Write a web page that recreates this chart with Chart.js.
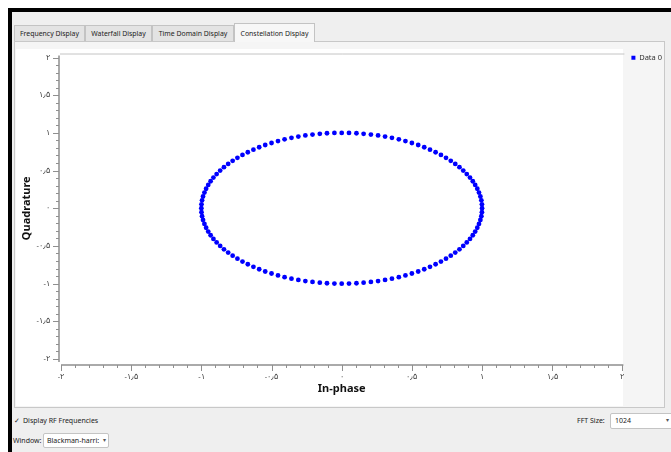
<!DOCTYPE html>
<html>
<head>
<meta charset="utf-8">
<script src="https://cdn.jsdelivr.net/npm/chart.js@4.4.1/dist/chart.umd.min.js"></script>
<style>
  body { margin: 0; width: 671px; height: 452px; overflow: hidden; background: #fff; font-family: "Noto Sans", sans-serif; position: relative; }
  .frame { position: absolute; left: 8px; top: 8px; right: 0; bottom: 0; background: #efefef; border-top: 4px solid #000; border-left: 4px solid #000; }
  .tab { position: absolute; top: 25px; height: 16px; line-height: 16px; font-size: 6.9px; color: #222; text-align: center; background: #e3e3e3; border: 1px solid #c3c3c3; border-bottom: none; box-sizing: border-box; }
  .tab.active { top: 23px; height: 19px; line-height: 19px; background: #f7f7f7; z-index: 2; }
  .pane { position: absolute; left: 14px; top: 41px; width: 651px; height: 367px; background: #f5f5f5; border: 1px solid #c8c8c8; box-sizing: border-box; }
  .plotbg { position: absolute; left: 16px; top: 49px; width: 607px; height: 357px; background: #fff; }
  #container { position: absolute; left: 14px; top: 42px; width: 655px; height: 364px; }
  .lbl { position: absolute; font-size: 7px; color: #222; white-space: nowrap; }
  .combo { position: absolute; background: #fff; border: 1px solid #c4c4c4; border-radius: 2px; box-sizing: border-box; font-size: 7px; color: #222; overflow: hidden; white-space: nowrap; }
</style>
</head>
<body>
<div class="frame"></div>
<div class="tab" style="left:14px;width:71px;">Frequency Display</div>
<div class="tab" style="left:85px;width:67px;">Waterfall Display</div>
<div class="tab" style="left:152px;width:82px;">Time Domain Display</div>
<div class="pane"></div>
<div class="tab active" style="left:234px;width:81px;">Constellation Display</div>
<div class="plotbg"></div>
<div id="container"><canvas id="myChart"></canvas></div>

<div class="lbl" style="left:14px;top:416px;">&#10003;</div>
<div class="lbl" style="left:23px;top:416px;">Display RF Frequencies</div>
<div class="lbl" style="left:13px;top:436px;">Window:</div>
<div class="combo" style="left:43px;top:433px;width:66px;height:15px;">
  <span style="position:absolute;left:3px;top:2px;">Blackman-harri:</span>
  <span style="position:absolute;left:57px;top:2px;font-size:6px;color:#555;background:#fff;padding-left:2px;">&#9662;</span>
</div>
<div class="lbl" style="left:577px;top:416px;">FFT Size:</div>
<div class="combo" style="left:610px;top:413px;width:66px;height:16px;">
  <span style="position:absolute;left:4px;top:2px;">1024</span>
  <span style="position:absolute;left:55px;top:2px;font-size:6px;color:#555;">&#9662;</span>
</div>

<script>
// samples (one ring of points, radius 1)
let inPhase = [
  1.000, 0.999, 0.995, 0.988, 0.978, 0.966, 0.951, 0.934, 0.914, 0.891,
  0.866, 0.839, 0.809, 0.777, 0.743, 0.707, 0.669, 0.629, 0.588, 0.545,
  0.500, 0.454, 0.407, 0.358, 0.309, 0.259, 0.208, 0.156, 0.105, 0.052,
  0.000, -0.052, -0.105, -0.156, -0.208, -0.259, -0.309, -0.358, -0.407, -0.454,
  -0.500, -0.545, -0.588, -0.629, -0.669, -0.707, -0.743, -0.777, -0.809, -0.839,
  -0.866, -0.891, -0.914, -0.934, -0.951, -0.966, -0.978, -0.988, -0.995, -0.999,
  -1.000, -0.999, -0.995, -0.988, -0.978, -0.966, -0.951, -0.934, -0.914, -0.891,
  -0.866, -0.839, -0.809, -0.777, -0.743, -0.707, -0.669, -0.629, -0.588, -0.545,
  -0.500, -0.454, -0.407, -0.358, -0.309, -0.259, -0.208, -0.156, -0.105, -0.052,
  0.000, 0.052, 0.105, 0.156, 0.208, 0.259, 0.309, 0.358, 0.407, 0.454,
  0.500, 0.545, 0.588, 0.629, 0.669, 0.707, 0.743, 0.777, 0.809, 0.839,
  0.866, 0.891, 0.914, 0.934, 0.951, 0.966, 0.978, 0.988, 0.995, 0.999
];
let quadrature = [
  0.000, 0.052, 0.105, 0.156, 0.208, 0.259, 0.309, 0.358, 0.407, 0.454,
  0.500, 0.545, 0.588, 0.629, 0.669, 0.707, 0.743, 0.777, 0.809, 0.839,
  0.866, 0.891, 0.914, 0.934, 0.951, 0.966, 0.978, 0.988, 0.995, 0.999,
  1.000, 0.999, 0.995, 0.988, 0.978, 0.966, 0.951, 0.934, 0.914, 0.891,
  0.866, 0.839, 0.809, 0.777, 0.743, 0.707, 0.669, 0.629, 0.588, 0.545,
  0.500, 0.454, 0.407, 0.358, 0.309, 0.259, 0.208, 0.156, 0.105, 0.052,
  0.000, -0.052, -0.105, -0.156, -0.208, -0.259, -0.309, -0.358, -0.407, -0.454,
  -0.500, -0.545, -0.588, -0.629, -0.669, -0.707, -0.743, -0.777, -0.809, -0.839,
  -0.866, -0.891, -0.914, -0.934, -0.951, -0.966, -0.978, -0.988, -0.995, -0.999,
  -1.000, -0.999, -0.995, -0.988, -0.978, -0.966, -0.951, -0.934, -0.914, -0.891,
  -0.866, -0.839, -0.809, -0.777, -0.743, -0.707, -0.669, -0.629, -0.588, -0.545,
  -0.500, -0.454, -0.407, -0.358, -0.309, -0.259, -0.208, -0.156, -0.105, -0.052
];

// axis ticks (same on both axes), labels in Persian digits as on the screen
let tickValues = [-2, -1.5, -1, -0.5, 0, 0.5, 1, 1.5, 2];
let tickLabels = ['-۲', '-۱٫۵', '-۱', '-۰٫۵', '۰', '۰٫۵', '۱', '۱٫۵', '۲'];

let seriesLabel = 'Data 0';
let pointColor = 'rgb(0,0,255)';
let axisColor = '#8f8f8f';

function setTicks(scale) {
  scale.ticks = tickValues.map(v => ({ value: v }));
}

// nudge the legend into the corner like the qt widget
const legendNudge = {
  id: 'legendNudge',
  afterLayout(chart) {
    if (!chart.legend) return;
    chart.legend.left += 3;
    chart.legend.top -= 5;
  }
};

// Qwt style axes: backbone a bit off the canvas, major + minor ticks
const qwtAxes = {
  id: 'qwtAxes',
  afterDraw(chart) {
    let ctx = chart.ctx;
    let a = chart.chartArea;
    let x = chart.scales.x, y = chart.scales.y;
    let yAxisX = a.left - 2;
    let xAxisY = a.bottom + 6;
    ctx.save();

    // top edge of the plot canvas
    ctx.strokeStyle = '#c4c4c4';
    ctx.lineWidth = 1;
    ctx.beginPath();
    ctx.moveTo(a.left - 1, a.top - 3.5);
    ctx.lineTo(a.right + 2, a.top - 3.5);
    ctx.stroke();

    ctx.strokeStyle = axisColor;
    ctx.lineWidth = 1.5;
    ctx.beginPath();
    ctx.moveTo(yAxisX, a.top - 2);
    ctx.lineTo(yAxisX, a.bottom + 3);
    ctx.moveTo(a.left, xAxisY);
    ctx.lineTo(a.right + 1, xAxisY);
    ctx.stroke();

    ctx.lineWidth = 1;
    ctx.beginPath();
    for (let i = -20; i <= 20; i++) {
      let v = i / 10;
      let len = (i % 5 === 0) ? 6 : 3;
      let py = Math.round(y.getPixelForValue(v)) + 0.5;
      ctx.moveTo(yAxisX, py);
      ctx.lineTo(yAxisX - len, py);
      let px = Math.round(x.getPixelForValue(v)) + 0.5;
      ctx.moveTo(px, xAxisY);
      ctx.lineTo(px, xAxisY + len);
    }
    ctx.stroke();
    ctx.restore();
  }
};

function createChart() {
  let ctx = document.getElementById('myChart').getContext('2d');
  let points = inPhase.map((v, i) => ({ x: v, y: quadrature[i] }));
  return new Chart(ctx, {
    type: 'scatter',
    data: {
      datasets: [{
        label: seriesLabel,
        data: points,
        backgroundColor: pointColor,
        borderColor: pointColor,
        borderWidth: 0,
        pointRadius: 2.4,
        pointHoverRadius: 2.4
      }]
    },
    options: {
      responsive: true,
      maintainAspectRatio: false,
      animation: false,
      layout: { padding: { top: 11, right: 0, bottom: 0, left: 0 } },
      plugins: {
        tooltip: { enabled: false },
        legend: {
          position: 'right',
          align: 'start',
          labels: {
            boxWidth: 4,
            boxHeight: 4,
            padding: 6,
            color: '#333',
            font: { family: 'Noto Sans', size: 7.5 }
          }
        }
      },
      scales: {
        x: {
          type: 'linear',
          min: -2,
          max: 2,
          afterBuildTicks: setTicks,
          afterFit: s => { s.height = 47; },
          grid: { display: false, drawTicks: false },
          border: { display: false },
          ticks: {
            autoSkip: false,
            maxRotation: 0,
            padding: 13,
            color: '#444',
            font: { family: 'Noto Sans', size: 7.5 },
            callback: (v, i) => tickLabels[i]
          },
          title: {
            display: true,
            text: 'In-phase',
            color: '#111',
            font: { family: 'Noto Sans', size: 11, weight: 'bold' },
            padding: { top: 0, bottom: 11 }
          }
        },
        y: {
          type: 'linear',
          min: -2,
          max: 2,
          afterBuildTicks: setTicks,
          afterFit: s => { s.width = 47; },
          grid: { display: false, drawTicks: false },
          border: { display: false },
          ticks: {
            autoSkip: false,
            padding: 11,
            color: '#444',
            font: { family: 'Noto Sans', size: 7.5 },
            callback: (v, i) => tickLabels[i]
          },
          title: {
            display: true,
            text: 'Quadrature',
            color: '#111',
            font: { family: 'Noto Sans', size: 11, weight: 'bold' },
            padding: { top: 6, bottom: 0 }
          }
        }
      }
    },
    plugins: [qwtAxes, legendNudge]
  });
}

createChart();
</script>
</body>
</html>
